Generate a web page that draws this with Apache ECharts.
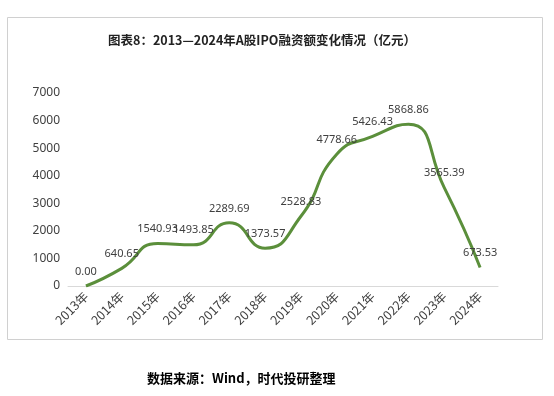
<!DOCTYPE html>
<html><head><meta charset="utf-8">
<script src="https://cdn.jsdelivr.net/npm/echarts@6/dist/echarts.min.js"></script>
<style>html,body{margin:0;padding:0;background:#fff}#c{width:554px;height:396px}</style>
</head><body><div id="c"></div>
<script>
const categories = ['2013年','2014年','2015年','2016年','2017年','2018年','2019年','2020年','2021年','2022年','2023年','2024年'];
const values = [0.00, 640.65, 1540.93, 1493.85, 2289.69, 1373.57, 2528.83, 4778.66, 5426.43, 5868.86, 3565.39, 673.53];
const titleText = '图表8：2013—2024年A股IPO融资额变化情况（亿元）';
const sourceText = '数据来源：Wind，时代投研整理';

const chart = echarts.init(document.getElementById('c'));
chart.setOption({
  backgroundColor: '#fff',
  animation: false,
  title: {
    text: titleText, left: 257, top: 29, textAlign: 'center',
    textStyle: { fontFamily: 'Noto Sans CJK SC', fontSize: 12.5, fontWeight: 'bold', color: '#222' }
  },
  graphic: [
    { type: 'rect', shape: { x: 7.5, y: 17.5, width: 535, height: 322 }, style: { fill: 'none', stroke: '#d0d0d0', lineWidth: 1 } },
    { type: 'text', left: 147, top: 372, style: { text: sourceText, font: 'bold 13px "Noto Sans CJK SC"', fill: '#000' } }
  ],
  grid: { left: 68, right: 56, top: 93, bottom: 110 },
  xAxis: {
    type: 'category', data: categories, boundaryGap: true,
    axisLine: { lineStyle: { color: '#d9d9d9' } }, axisTick: { show: false },
    axisLabel: { rotate: 45, color: '#404040', fontSize: 12.5, fontFamily: 'Noto Sans CJK SC', interval: 0, margin: 8 }
  },
  yAxis: {
    type: 'value', min: 0, max: 7000, interval: 1000,
    axisLine: { show: false }, axisTick: { show: false }, splitLine: { show: false },
    axisLabel: { color: '#404040', fontSize: 12, fontFamily: 'Noto Sans', margin: 8, formatter: v => String(v) }
  },
  series: [{
    type: 'line', data: values, smooth: 0.55, symbol: 'circle', symbolSize: 0, showSymbol: true,
    itemStyle: { color: 'rgba(0,0,0,0)' },
    lineStyle: { color: '#5b8f3b', width: 3 },
    label: { show: true, position: 'top', distance: 9, color: '#404040', fontSize: 11, fontFamily: 'Noto Sans',
      formatter: p => p.value.toFixed(2) }
  }]
});
</script></body></html>
